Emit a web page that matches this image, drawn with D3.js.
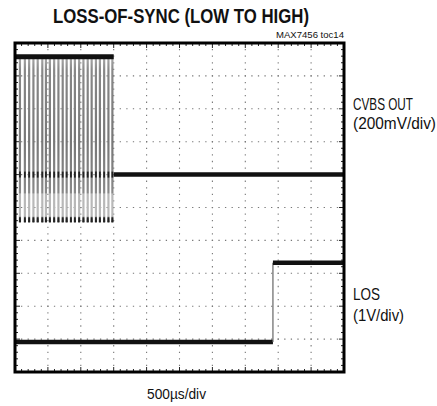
<!DOCTYPE html>
<html>
<head>
<meta charset="utf-8">
<script src="https://cdn.jsdelivr.net/npm/d3@7"></script>
<style>
  body { margin: 0; background: #fff; }
  text { font-family: "Liberation Sans Narrow", "Arial Narrow", "Liberation Sans", Arial, sans-serif; fill: #111; }
</style>
</head>
<body>
<div id="chart"></div>
<script>
// scope screen: 10 x 10 divisions, values in divisions
const xDivs = [0, 1, 2, 3, 4, 5, 6, 7, 8, 9, 10];
const yDivs = [0, 1, 2, 3, 4, 5, 6, 7, 8, 9, 10];

// CVBS OUT burst (0 .. 3 div), then flat
const burstTimes = [0.15, 0.30, 0.43, 0.56, 0.69, 0.83, 0.94, 1.06, 1.19, 1.32, 1.45, 1.57,
                    1.70, 1.82, 1.95, 2.08, 2.21, 2.33, 2.46, 2.58, 2.71, 2.84, 2.96];
const burstTop = 9.58;
const burstBottom = 4.55;
const burstEnd = 3.0;
const cvbsBaseline = 6.0;

// LOS trace
const losTimes = [0, 7.84, 7.84, 10];
const losLevels = [0.91, 0.91, 3.32, 3.32];

const width = 437, height = 406;
const frame = {left: 15, top: 43, right: 344, bottom: 372};

const svg = d3.select("#chart").append("svg")
    .attr("width", width)
    .attr("height", height);

const x = d3.scaleLinear().domain([0, 10]).range([frame.left, frame.right]);
const y = d3.scaleLinear().domain([0, 10]).range([frame.bottom, frame.top]);

// dotted grid
const minor = x(0.2) - x(0);
const grid = svg.append("g").attr("class", "grid");
grid.selectAll(".vgrid")
    .data(xDivs.slice(1, -1))
    .enter().append("line")
    .attr("x1", d => x(d)).attr("x2", d => x(d))
    .attr("y1", frame.top).attr("y2", frame.bottom)
    .style("stroke", "#777")
    .style("stroke-width", 1.1)
    .style("stroke-dasharray", `1.3,${(minor - 1.3).toFixed(2)}`)
    .style("stroke-dashoffset", 0.6);
grid.selectAll(".hgrid")
    .data(yDivs.slice(1, -1))
    .enter().append("line")
    .attr("y1", d => y(d)).attr("y2", d => y(d))
    .attr("x1", frame.left).attr("x2", frame.right)
    .style("stroke", "#777")
    .style("stroke-width", 1.1)
    .style("stroke-dasharray", `1.3,${(minor - 1.3).toFixed(2)}`)
    .style("stroke-dashoffset", 0.6);

// frame ticks (minor every 1/5 div)
const tickPos = d3.range(0, 10.01, 0.2);
const isMajor = d => Math.abs(d - Math.round(d)) < 0.01;
const ticks = svg.append("g").attr("class", "frame-ticks");
ticks.selectAll(".tt").data(tickPos).enter().append("line")
    .attr("x1", d => x(d)).attr("x2", d => x(d))
    .attr("y1", frame.top).attr("y2", d => frame.top + (isMajor(d) ? 5 : 3))
    .style("stroke", "#222").style("stroke-width", 1);
ticks.selectAll(".tb").data(tickPos).enter().append("line")
    .attr("x1", d => x(d)).attr("x2", d => x(d))
    .attr("y1", frame.bottom).attr("y2", d => frame.bottom - (isMajor(d) ? 5 : 3))
    .style("stroke", "#222").style("stroke-width", 1);
ticks.selectAll(".tl").data(tickPos).enter().append("line")
    .attr("y1", d => y(d)).attr("y2", d => y(d))
    .attr("x1", frame.left).attr("x2", d => frame.left + (isMajor(d) ? 5 : 3))
    .style("stroke", "#222").style("stroke-width", 1);
ticks.selectAll(".tr").data(tickPos).enter().append("line")
    .attr("y1", d => y(d)).attr("y2", d => y(d))
    .attr("x1", frame.right).attr("x2", d => frame.right - (isMajor(d) ? 5 : 3))
    .style("stroke", "#222").style("stroke-width", 1);

// burst gradient
const defs = svg.append("defs");
const grad = defs.append("linearGradient")
    .attr("id", "burstGrad")
    .attr("gradientUnits", "userSpaceOnUse")
    .attr("x1", 0).attr("x2", 0)
    .attr("y1", y(burstTop)).attr("y2", y(burstBottom));
[[0, "#aaa"], [0.08, "#888"], [0.5, "#777"], [0.82, "#888"], [0.83, "#b8b8b8"], [0.96, "#b8b8b8"], [1, "#222"]]
    .forEach(s => grad.append("stop").attr("offset", s[0]).attr("stop-color", s[1]));

const trace = svg.append("g").attr("class", "traces");

trace.selectAll(".burst-line")
    .data(burstTimes)
    .enter().append("line")
    .attr("class", "burst-line")
    .attr("x1", d => x(d)).attr("x2", d => x(d))
    .attr("y1", y(burstTop)).attr("y2", y(burstBottom))
    .style("stroke", "url(#burstGrad)")
    .style("stroke-width", 2.2);

// dark ticks at baseline and bottom of burst
trace.selectAll(".burst-mid")
    .data(burstTimes)
    .enter().append("line")
    .attr("x1", d => x(d)).attr("x2", d => x(d))
    .attr("y1", y(cvbsBaseline) - 3).attr("y2", y(cvbsBaseline) + 3)
    .style("stroke", "#222").style("stroke-width", 1.8);
trace.selectAll(".burst-low")
    .data(burstTimes)
    .enter().append("line")
    .attr("x1", d => x(d)).attr("x2", d => x(d))
    .attr("y1", y(burstBottom) - 5).attr("y2", y(burstBottom))
    .style("stroke", "#222").style("stroke-width", 1.8);

// top band of burst
trace.append("line")
    .attr("x1", x(0)).attr("x2", x(burstEnd))
    .attr("y1", y(burstTop)).attr("y2", y(burstTop))
    .style("stroke", "#111").style("stroke-width", 5);

// flat CVBS after burst
trace.append("line")
    .attr("x1", x(burstEnd)).attr("x2", x(10))
    .attr("y1", y(cvbsBaseline)).attr("y2", y(cvbsBaseline))
    .style("stroke", "#111").style("stroke-width", 4.5);

// LOS trace
const losData = losTimes.map((t, i) => ({t: t, v: losLevels[i]}));
const line = d3.line().x(d => x(d.t)).y(d => y(d.v));
trace.append("path")
    .datum(losData.slice(0, 2))
    .attr("d", line)
    .style("fill", "none").style("stroke", "#111").style("stroke-width", 4.5);
trace.append("path")
    .datum(losData.slice(1, 3))
    .attr("d", line)
    .style("fill", "none").style("stroke", "#666").style("stroke-width", 1.2);
trace.append("path")
    .datum(losData.slice(2, 4))
    .attr("d", line)
    .style("fill", "none").style("stroke", "#111").style("stroke-width", 4.5);

// frame
svg.append("rect")
    .attr("x", frame.left).attr("y", frame.top)
    .attr("width", frame.right - frame.left)
    .attr("height", frame.bottom - frame.top)
    .style("fill", "none").style("stroke", "#000").style("stroke-width", 3);

// texts
svg.append("text")
    .attr("x", 53).attr("y", 23)
    .attr("textLength", 256).attr("lengthAdjust", "spacingAndGlyphs")
    .style("font-size", "21px").style("font-weight", "bold")
    .text("LOSS-OF-SYNC (LOW TO HIGH)");

svg.append("text")
    .attr("x", 276).attr("y", 38)
    .attr("textLength", 68).attr("lengthAdjust", "spacingAndGlyphs")
    .style("font-size", "9px")
    .text("MAX7456 toc14");

const side = [
    {t: "CVBS OUT", y: 110, w: 60},
    {t: "(200mV/div)", y: 129, w: 83},
    {t: "LOS", y: 300, w: 27},
    {t: "(1V/div)", y: 321, w: 51}
];
svg.selectAll(".side-label")
    .data(side)
    .enter().append("text")
    .attr("class", "side-label")
    .attr("transform", d => `translate(353,${d.y}) scale(1,1.25)`)
    .attr("textLength", d => d.w).attr("lengthAdjust", "spacingAndGlyphs")
    .style("font-size", "13.5px")
    .text(d => d.t);

svg.append("text")
    .attr("x", 147).attr("y", 399)
    .attr("textLength", 59).attr("lengthAdjust", "spacingAndGlyphs")
    .style("font-size", "14px")
    .text("500µs/div");
</script>
</body>
</html>
